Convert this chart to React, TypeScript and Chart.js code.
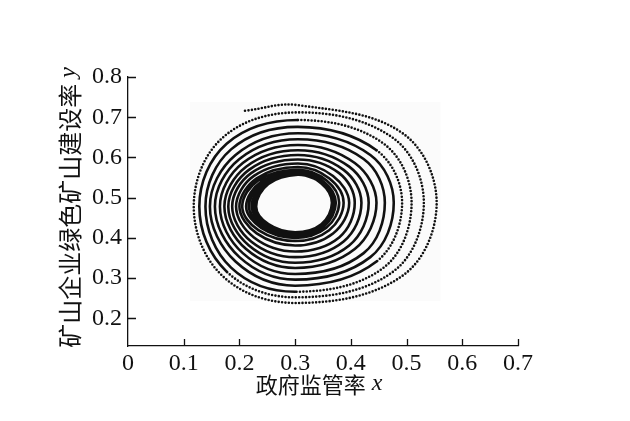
import { useEffect, useRef } from 'react';
import { Chart, registerables } from 'chart.js';

Chart.register(...registerables);

// ---- axis ticks & titles ----
const xTickValues = [0, 0.1, 0.2, 0.3, 0.4, 0.5, 0.6, 0.7];
const yTickValues = [0.2, 0.3, 0.4, 0.5, 0.6, 0.7, 0.8];
const xTitleText = '政府监管率';
const xTitleVar = 'x';
const yTitleText = '矿山企业绿色矿山建设率';
const yTitleVar = 'y';

// ---- spiral trajectory, read turn by turn (outer -> inner), clockwise ----
const spiralStart = [0.21, 0.716];
const spiralEnd = [0.348, 0.541];
// top crossing y of each turn (x = topCrossX); last entry = final approach
const turnTopY = [0.730, 0.712, 0.693, 0.676, 0.660, 0.645, 0.631, 0.618, 0.606, 0.595, 0.585, 0.576, 0.569, 0.564, 0.561, 0.559, 0.558, 0.557];
// right crossing x of each turn (y = rightCrossY)
const turnRightX = [0.554, 0.531, 0.509, 0.492, 0.477, 0.461, 0.446, 0.432, 0.419, 0.407, 0.397, 0.387, 0.379, 0.373, 0.369, 0.367, 0.366];
// bottom crossing y of each turn (x = bottomCrossX)
const turnBottomY = [0.238, 0.252, 0.266, 0.281, 0.296, 0.310, 0.325, 0.338, 0.352, 0.366, 0.381, 0.392, 0.400, 0.406, 0.410, 0.412, 0.414];
// left crossing x of each turn (y = leftCrossY)
const turnLeftX = [0.118, 0.128, 0.139, 0.147, 0.156, 0.165, 0.173, 0.180, 0.187, 0.194, 0.200, 0.205, 0.212, 0.217, 0.222, 0.226, 0.230];
// diagonal points of each turn [x, y]
const turnNE = [[0.493, 0.660], [0.476, 0.648], [0.459, 0.634], [0.446, 0.618], [0.435, 0.606], [0.423, 0.596], [0.407, 0.586], [0.397, 0.577], [0.387, 0.569], [0.379, 0.561], [0.368, 0.554], [0.361, 0.548], [0.356, 0.543], [0.352, 0.539], [0.349, 0.537], [0.347, 0.536], [0.347, 0.535]];
const turnSE = [[0.493, 0.306], [0.476, 0.316], [0.459, 0.326], [0.446, 0.341], [0.435, 0.352], [0.423, 0.362], [0.407, 0.372], [0.397, 0.381], [0.387, 0.391], [0.379, 0.401], [0.368, 0.411], [0.361, 0.419], [0.356, 0.425], [0.352, 0.429], [0.349, 0.432], [0.347, 0.433], [0.347, 0.434]];
const turnSW = [[0.169, 0.306], [0.177, 0.316], [0.185, 0.326], [0.193, 0.341], [0.200, 0.352], [0.206, 0.362], [0.212, 0.372], [0.217, 0.381], [0.221, 0.391], [0.226, 0.401], [0.231, 0.411], [0.234, 0.419], [0.239, 0.425], [0.242, 0.429], [0.246, 0.432], [0.249, 0.433], [0.252, 0.434]];
const turnNW = [[0.169, 0.648], [0.177, 0.634], [0.185, 0.620], [0.193, 0.606], [0.200, 0.596], [0.206, 0.586], [0.212, 0.577], [0.217, 0.569], [0.221, 0.561], [0.226, 0.554], [0.231, 0.548], [0.234, 0.543], [0.239, 0.539], [0.242, 0.537], [0.246, 0.536], [0.249, 0.535], [0.252, 0.534]];
const topCrossX = 0.305;
const rightCrossY = 0.487;
const bottomCrossX = 0.30;
const leftCrossY = 0.478;

// faint scanned backdrop behind the plot
const backdrop = { x0: 0.111, x1: 0.561, y0: 0.243, y1: 0.738 };

const SERIF = '"Liberation Serif", "Times New Roman", serif';
const CJK = '"Noto Sans CJK SC", "Noto Sans", sans-serif';
const INK = '#111111';

function buildPath() {
  const pts: { x: number; y: number }[] = [{ x: spiralStart[0], y: spiralStart[1] }];
  for (let i = 0; i < turnRightX.length; i++) {
    pts.push({ x: topCrossX, y: turnTopY[i] });
    pts.push({ x: turnNE[i][0], y: turnNE[i][1] });
    pts.push({ x: turnRightX[i], y: rightCrossY });
    pts.push({ x: turnSE[i][0], y: turnSE[i][1] });
    pts.push({ x: bottomCrossX, y: turnBottomY[i] });
    pts.push({ x: turnSW[i][0], y: turnSW[i][1] });
    pts.push({ x: turnLeftX[i], y: leftCrossY });
    pts.push({ x: turnNW[i][0], y: turnNW[i][1] });
  }
  pts.push({ x: topCrossX, y: turnTopY[turnTopY.length - 1] });
  pts.push({ x: spiralEnd[0], y: spiralEnd[1] });
  return pts;
}

// outer, fast-moving part of the trajectory shows as separate dots
function isDotted(idx: number) {
  if (idx === 0) return true;
  const turn = Math.floor((idx - 1) / 8);
  const pos = (idx - 1) % 8;
  if (turn === 0) return true;
  if (turn === 1) return pos <= 4;
  if (turn === 2) return pos <= 3;
  if (turn === 3) return pos >= 1 && pos <= 2;
  return false;
}

function drawMixed(ctx: CanvasRenderingContext2D, cjk: string, v: string, cx: number, cy: number, cjkSize: number, vSize: number) {
  ctx.font = `${cjkSize}px ${CJK}`;
  const w1 = ctx.measureText(cjk).width;
  const gap = 6;
  ctx.font = `italic ${vSize}px ${SERIF}`;
  const w2 = ctx.measureText(v).width;
  const total = w1 + gap + w2;
  let x = cx - total / 2;
  ctx.textAlign = 'left';
  ctx.textBaseline = 'middle';
  ctx.fillStyle = INK;
  ctx.font = `${cjkSize}px ${CJK}`;
  ctx.fillText(cjk, x, cy);
  x += w1 + gap;
  ctx.font = `italic ${vSize}px ${SERIF}`;
  ctx.fillText(v, x, cy - 1);
}

const decorPlugin = {
  id: 'decor',
  beforeDatasetsDraw(chart: any) {
    const { ctx, scales } = chart;
    const xs = scales.x, ys = scales.y;
    const l = xs.getPixelForValue(backdrop.x0);
    const r = xs.getPixelForValue(backdrop.x1);
    const t = ys.getPixelForValue(backdrop.y1);
    const b = ys.getPixelForValue(backdrop.y0);
    ctx.save();
    ctx.fillStyle = '#fbfbfb';
    ctx.fillRect(l, t, r - l, b - t);
    ctx.restore();
  },
  afterDraw(chart: any) {
    const { ctx, chartArea, scales } = chart;
    const xs = scales.x, ys = scales.y;
    ctx.save();
    ctx.strokeStyle = INK;
    ctx.lineWidth = 1.3;
    ctx.beginPath();
    for (const v of xTickValues) {
      if (v === 0) continue;
      const px = Math.round(xs.getPixelForValue(v)) + 0.5;
      ctx.moveTo(px, chartArea.bottom);
      ctx.lineTo(px, chartArea.bottom - 7);
    }
    for (const v of yTickValues) {
      const py = Math.round(ys.getPixelForValue(v)) + 0.5;
      ctx.moveTo(chartArea.left, py);
      ctx.lineTo(chartArea.left + 8, py);
    }
    ctx.stroke();

    // x title
    drawMixed(ctx, xTitleText, xTitleVar, (chartArea.left + chartArea.right) / 2 - 4, 385, 22, 24);
    // y title (rotated)
    ctx.translate(70, (chartArea.top + chartArea.bottom) / 2 - 4);
    ctx.rotate(-Math.PI / 2);
    drawMixed(ctx, yTitleText, yTitleVar, 0, 0, 24, 24);
    ctx.restore();
  },
};

export default function App() {
  const ref = useRef<HTMLCanvasElement | null>(null);

  useEffect(() => {
    if (!ref.current) return;
    const data = buildPath();
    const chart = new Chart(ref.current, {
      type: 'scatter',
      data: {
        datasets: [
          {
            data,
            showLine: true,
            borderColor: INK,
            borderWidth: 2.6,
            borderCapStyle: 'round',
            borderJoinStyle: 'round',
            tension: 0.37,
            pointRadius: 0,
            pointHoverRadius: 0,
            fill: false,
            segment: {
              borderDash: (c: any) => (isDotted(c.p0DataIndex) ? [0, 3.4] : []),
            },
          } as any,
        ],
      },
      options: {
        responsive: false,
        animation: false,
        events: [],
        layout: { padding: { left: 0, top: 77, right: 112, bottom: 0 } },
        plugins: { legend: { display: false }, tooltip: { enabled: false }, title: { display: false } },
        scales: {
          x: {
            type: 'linear',
            min: 0,
            max: 0.7,
            grid: { display: false, drawTicks: false },
            border: { display: true, color: INK, width: 1.3 },
            afterBuildTicks: (s: any) => {
              s.ticks = xTickValues.map((v) => ({ value: v }));
            },
            afterFit: (s: any) => {
              s.height = 75;
            },
            ticks: {
              color: INK,
              padding: 3,
              maxRotation: 0,
              autoSkip: false,
              font: { family: SERIF, size: 24 },
              callback: (v: any) => (Number(v) === 0 ? '0' : Number(v).toFixed(1)),
            },
          },
          y: {
            type: 'linear',
            min: 0.131,
            max: 0.8,
            grid: { display: false, drawTicks: false },
            border: { display: true, color: INK, width: 1.3 },
            afterBuildTicks: (s: any) => {
              s.ticks = yTickValues.map((v) => ({ value: v }));
            },
            afterFit: (s: any) => {
              s.width = 128;
            },
            ticks: {
              color: INK,
              padding: 6,
              autoSkip: false,
              font: { family: SERIF, size: 24 },
              callback: (v: any) => Number(v).toFixed(1),
            },
          },
        },
      },
      plugins: [decorPlugin],
    });
    return () => chart.destroy();
  }, []);

  return (
    <div style={{ position: 'fixed', left: 0, top: 0, width: 630, height: 421, background: '#ffffff' }}>
      <canvas ref={ref} width={630} height={421} style={{ display: 'block' }} />
    </div>
  );
}
